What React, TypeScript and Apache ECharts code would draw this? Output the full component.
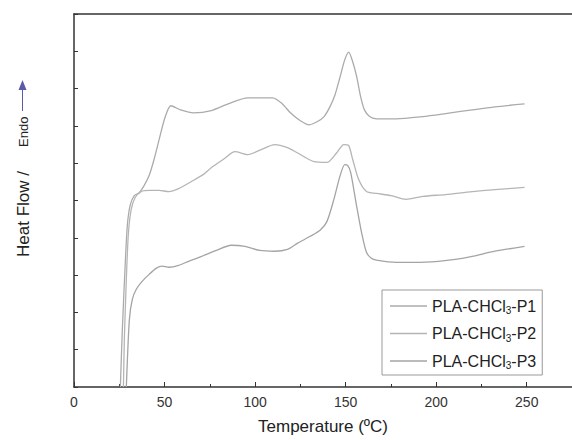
import React, { useEffect, useRef } from "react";
import * as echarts from "echarts";

const seriesNames = ["PLA-CHCl3-P1", "PLA-CHCl3-P2", "PLA-CHCl3-P3"];
const xTickLabels = ["0", "50", "100", "150", "200", "250"];

const p1Temp = [25.6, 26.7, 28.4, 29.5, 31.1, 33.3, 36.0, 38.7, 41.5, 44.2, 47.0, 50.2, 53.5, 58.9, 66.0, 75.8, 85.1, 96.0, 109.7, 115.1, 119.5, 125.0, 129.9, 134.2, 138.1, 141.3, 144.1, 146.8, 149.5, 151.7, 153.9, 156.1, 158.3, 160.4, 163.2, 167.0, 177.9, 192.6, 205.2, 219.9, 232.4, 248.8];
const p1Flow = [0, 1.55, 3.42, 4.36, 4.89, 5.13, 5.21, 5.40, 5.67, 6.10, 6.63, 7.22, 7.54, 7.43, 7.35, 7.41, 7.59, 7.75, 7.75, 7.59, 7.35, 7.14, 7.03, 7.11, 7.25, 7.51, 7.83, 8.29, 8.77, 8.98, 8.72, 8.32, 7.78, 7.43, 7.25, 7.19, 7.19, 7.25, 7.33, 7.43, 7.51, 7.59];

const p2Temp = [27.3, 27.8, 28.9, 30.0, 31.6, 33.8, 37.1, 41.5, 47.0, 52.4, 57.8, 64.9, 71.5, 75.8, 82.4, 88.9, 96.0, 103.1, 110.8, 117.9, 123.3, 132.6, 139.7, 145.1, 149.0, 151.7, 153.9, 157.2, 161.5, 167.0, 175.2, 183.3, 192.6, 205.2, 219.9, 232.4, 248.8];
const p2Flow = [0, 1.28, 2.89, 4.09, 4.76, 5.08, 5.24, 5.27, 5.27, 5.24, 5.32, 5.51, 5.70, 5.88, 6.10, 6.31, 6.23, 6.36, 6.50, 6.42, 6.28, 6.04, 6.02, 6.28, 6.50, 6.47, 6.10, 5.56, 5.24, 5.19, 5.13, 5.03, 5.11, 5.16, 5.24, 5.29, 5.35];

const p3Temp = [28.9, 29.5, 30.6, 32.2, 34.4, 37.6, 41.5, 45.3, 48.6, 52.4, 57.8, 63.3, 70.4, 78.6, 86.8, 94.4, 102.6, 110.8, 117.9, 123.3, 130.4, 135.9, 139.7, 143.5, 146.8, 149.5, 151.1, 152.8, 156.1, 158.8, 161.5, 164.2, 167.0, 177.9, 188.8, 201.3, 210.6, 219.9, 232.4, 248.8];
const p3Flow = [0, 0.75, 1.82, 2.35, 2.62, 2.83, 3.02, 3.18, 3.24, 3.21, 3.26, 3.37, 3.50, 3.66, 3.80, 3.77, 3.66, 3.64, 3.69, 3.85, 4.04, 4.20, 4.44, 5.03, 5.64, 5.96, 5.94, 5.75, 4.84, 4.14, 3.61, 3.45, 3.40, 3.34, 3.34, 3.37, 3.42, 3.50, 3.64, 3.77];

const zip = (a: number[], b: number[]) => a.map((v, i) => [v, b[i]]);

export default function App() {
  const ref = useRef<HTMLDivElement>(null);
  useEffect(() => {
    if (!ref.current) return;
    const chart = echarts.init(ref.current, undefined, { renderer: "svg" });
    const font = "'Liberation Sans', Arial, sans-serif";
    const colors = ["#ababab", "#b5b5b5", "#a4a4a4"];
    const datas = [zip(p1Temp, p1Flow), zip(p2Temp, p2Flow), zip(p3Temp, p3Flow)];
    chart.setOption({
      animation: false,
      backgroundColor: "#ffffff",
      grid: { left: 74, top: 14, width: 504, height: 374 },
      xAxis: [
        {
          type: "value",
          min: 0,
          max: 275,
          interval: 50,
          position: "bottom",
          axisLine: { lineStyle: { color: "#333", width: 1.5 } },
          axisTick: { inside: true, length: 5, lineStyle: { color: "#333" } },
          axisLabel: {
            color: "#333",
            fontSize: 14,
            fontFamily: font,
            margin: 8,
            showMaxLabel: false,
            formatter: (v: number) => xTickLabels[Math.round(v / 50)] ?? "",
          },
          splitLine: { show: false },
          name: "Temperature (ºC)",
          nameLocation: "middle",
          nameGap: 31,
          nameTextStyle: { color: "#222", fontSize: 17, fontFamily: font },
        },
        {
          type: "value",
          min: 0,
          max: 275,
          interval: 25,
          position: "bottom",
          axisLine: { show: false },
          axisTick: { inside: true, length: 3, lineStyle: { color: "#333" } },
          axisLabel: { show: false },
          splitLine: { show: false },
        },
        {
          type: "value",
          min: 0,
          max: 275,
          position: "top",
          axisLine: { lineStyle: { color: "#333", width: 1.5 } },
          axisTick: { show: false },
          axisLabel: { show: false },
          splitLine: { show: false },
        },
      ],
      yAxis: {
        type: "value",
        min: 0,
        max: 10,
        interval: 1,
        axisLine: { show: true, lineStyle: { color: "#333", width: 1.5 } },
        axisTick: { inside: true, length: 4, lineStyle: { color: "#333" } },
        axisLabel: { show: false },
        splitLine: { show: false },
      },
      legend: {
        orient: "vertical",
        left: 382,
        top: 290,
        width: 166,
        padding: [6, 6, 4, 8],
        itemGap: 7.5,
        itemWidth: 37,
        itemHeight: 1.3,
        itemTextGap: 5,
        icon: "rect",
        borderColor: "#999",
        borderWidth: 1,
        formatter: (name: string) => name.replace("CHCl3", "CHCl{s|3}"),
        textStyle: {
          color: "#222",
          fontSize: 16,
          fontFamily: font,
          lineHeight: 20,
          rich: {
            s: { fontSize: 10, fontFamily: font, color: "#222", padding: [9, 0, 0, 0] },
          },
        },
        data: seriesNames,
      },
      graphic: [
        {
          type: "text",
          x: 23,
          y: 257,
          rotation: Math.PI / 2,
          style: { text: "Heat Flow /", fontSize: 17, fontFamily: font, fill: "#222", align: "left", verticalAlign: "middle" },
        },
        {
          type: "text",
          x: 23,
          y: 147,
          rotation: Math.PI / 2,
          style: { text: "Endo", fontSize: 13, fontFamily: font, fill: "#222", align: "left", verticalAlign: "middle" },
        },
        {
          type: "line",
          shape: { x1: 22.5, y1: 111, x2: 22.5, y2: 88 },
          style: { stroke: "#5a5aa8", lineWidth: 1 },
        },
        {
          type: "polygon",
          shape: { points: [[18.5, 90], [26.5, 90], [22.5, 80]] },
          style: { fill: "#5a5aa8" },
        },
      ],
      series: seriesNames.map((n, i) => ({
        name: n,
        type: "line",
        xAxisIndex: 0,
        data: datas[i],
        symbol: "none",
        smooth: 0.25,
        lineStyle: { color: colors[i], width: 1.3 },
        itemStyle: { color: colors[i] },
      })),
    });
    return () => chart.dispose();
  }, []);
  return (
    <div
      ref={ref}
      style={{ position: "fixed", left: 0, top: 0, width: 572, height: 440, background: "#fff" }}
    />
  );
}
